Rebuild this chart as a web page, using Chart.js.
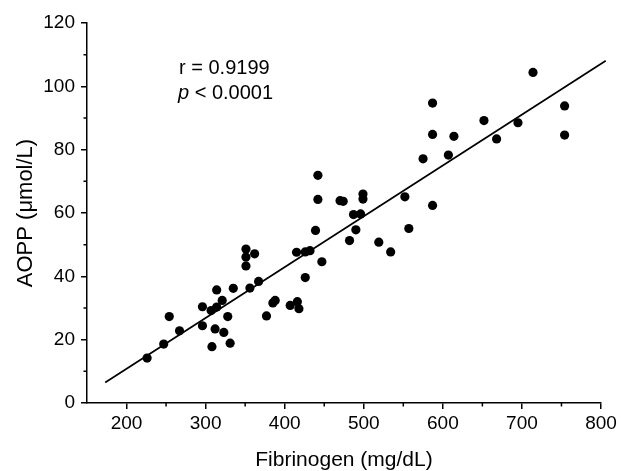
<!DOCTYPE html>
<html>
<head>
<meta charset="utf-8">
<script src="https://cdn.jsdelivr.net/npm/chart.js@4"></script>
<style>
  body { margin: 0; background: #fff; }
  #wrap { width: 621px; height: 471px; }
</style>
</head>
<body>
<div id="wrap"><canvas id="scatter-chart" width="621" height="471"></canvas></div>
<script>
// values
const fibrinogen = [226, 247, 254, 267, 296, 296, 307, 314, 308, 312, 314, 321, 323, 328, 331, 335,
    351, 351, 351, 362, 356, 367, 377, 385, 388, 407, 416, 418, 415, 426, 432, 426, 447, 439, 442, 442,
    470, 474, 487, 496, 499, 499, 490, 482, 519, 534, 552, 557, 575, 587, 587, 587, 607, 614, 652, 668,
    695, 714, 754, 754];
const aopp = [14.2, 18.6, 27.3, 22.8, 30.4, 24.4, 29.2, 30.3, 17.8, 23.4, 35.7, 32.4, 22.3, 27.3, 18.9, 36.2,
    48.6, 46.1, 43.3, 47.1, 36.3, 38.4, 27.5, 31.6, 32.4, 30.8, 32.0, 29.8, 47.6, 47.7, 48.1, 39.6, 44.6, 54.5, 64.3, 71.9,
    63.9, 63.7, 59.5, 59.7, 66.0, 64.4, 54.7, 51.3, 50.8, 47.7, 65.1, 55.1, 77.1, 62.4, 84.8, 94.7, 78.3, 84.2, 89.2, 83.4,
    88.5, 104.4, 93.8, 84.6];

// regression line end points
const fitX = [173, 806];
const fitY = [6.5, 108.1];

const xTicks = [200, 300, 400, 500, 600, 700, 800];
const xMinor = [250, 350, 450, 550, 650, 750];
const yMinor = [10, 30, 50, 70, 90, 110];

const statLines = ['r = 0.9199', '< 0.0001'];

const fontFamily = '"Liberation Sans", Arial, Helvetica, sans-serif';

// short ticks half way between the labelled ones
const minorTicks = {
    id: 'minorTicks',
    afterDraw(chart) {
        const ctx = chart.ctx;
        const xs = chart.scales.x;
        const ys = chart.scales.y;
        ctx.save();
        ctx.strokeStyle = '#000';
        ctx.lineWidth = 1.5;
        ctx.beginPath();
        xMinor.forEach(v => {
            const px = xs.getPixelForValue(v);
            ctx.moveTo(px, xs.top);
            ctx.lineTo(px, xs.top + 3.5);
        });
        yMinor.forEach(v => {
            const py = ys.getPixelForValue(v);
            ctx.moveTo(ys.right, py);
            ctx.lineTo(ys.right - 3.5, py);
        });
        ctx.stroke();
        ctx.restore();
    }
};

// r and p text in the upper left
const statsText = {
    id: 'statsText',
    afterDraw(chart) {
        const ctx = chart.ctx;
        ctx.save();
        ctx.fillStyle = '#000';
        ctx.textBaseline = 'alphabetic';
        ctx.font = '20px ' + fontFamily;
        ctx.fillText(statLines[0], 179, 74);
        ctx.font = 'italic 20px ' + fontFamily;
        ctx.fillText('p', 178, 99);
        const w = ctx.measureText('p ').width;
        ctx.font = '20px ' + fontFamily;
        ctx.fillText(statLines[1], 178 + w, 99);
        ctx.restore();
    }
};

const ctx = document.getElementById('scatter-chart').getContext('2d');
const chart = new Chart(ctx, {
    type: 'scatter',
    data: {
        datasets: [
            {
                label: 'AOPP',
                data: fibrinogen.map((x, i) => ({ x: x, y: aopp[i] })),
                backgroundColor: '#000',
                borderWidth: 0,
                pointRadius: 4.6,
            },
            {
                type: 'line',
                label: 'fit',
                data: fitX.map((x, i) => ({ x: x, y: fitY[i] })),
                borderColor: '#000',
                borderWidth: 1.7,
                pointRadius: 0,
                fill: false,
                clip: false,
            },
        ],
    },
    options: {
        responsive: false,
        animation: false,
        layout: { padding: { top: 23, right: 20, left: 0, bottom: 0 } },
        plugins: {
            legend: { display: false },
            tooltip: { enabled: false },
        },
        scales: {
            x: {
                type: 'linear',
                min: 150,
                max: 800,
                afterBuildTicks: scale => {
                    scale.ticks = xTicks.map(v => ({ value: v }));
                },
                afterFit: scale => { scale.height = 68; },
                ticks: {
                    color: '#000',
                    font: { family: fontFamily, size: 19 },
                    padding: 3,
                    maxRotation: 0,
                },
                grid: {
                    drawOnChartArea: false,
                    tickLength: 6,
                    color: '#000',
                    lineWidth: 1.5,
                },
                border: { color: '#000', width: 1.5 },
                title: {
                    display: true,
                    text: 'Fibrinogen (mg/dL)',
                    color: '#000',
                    font: { family: fontFamily, size: 21, lineHeight: 1 },
                    padding: { top: 0, bottom: 0 },
                },
            },
            y: {
                min: 0,
                max: 120,
                afterFit: scale => { scale.width = 87; },
                ticks: {
                    stepSize: 20,
                    color: '#000',
                    font: { family: fontFamily, size: 19 },
                    padding: 6,
                },
                grid: {
                    drawOnChartArea: false,
                    tickLength: 6,
                    color: '#000',
                    lineWidth: 1.5,
                },
                border: { color: '#000', width: 1.5 },
                title: {
                    display: true,
                    text: 'AOPP (μmol/L)',
                    color: '#000',
                    font: { family: fontFamily, size: 22, lineHeight: 1 },
                    padding: { top: 15, bottom: 0 },
                },
            },
        },
    },
    plugins: [minorTicks, statsText],
});
</script>
</body>
</html>
